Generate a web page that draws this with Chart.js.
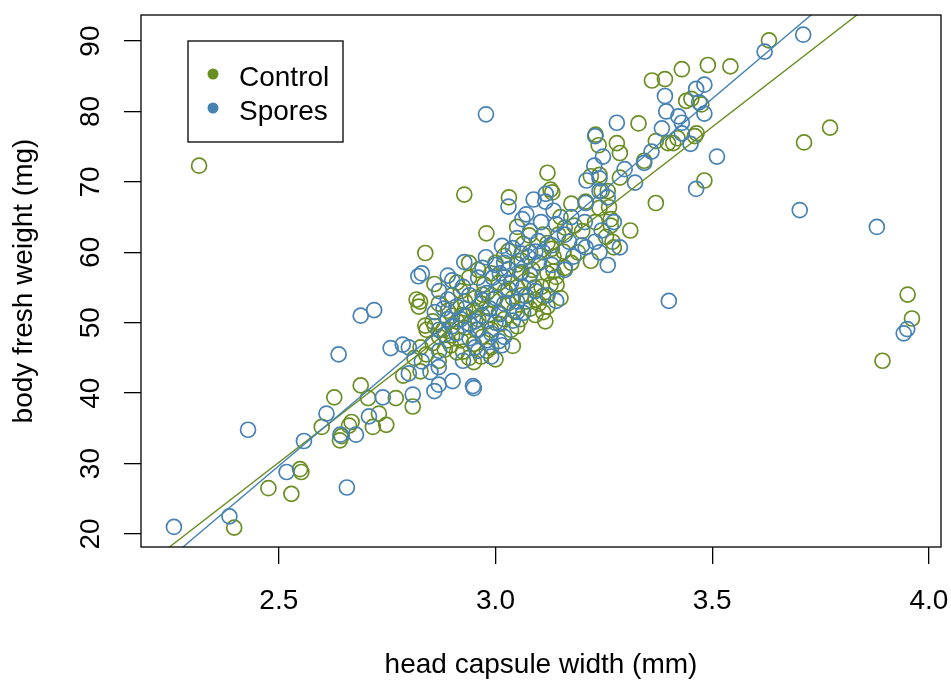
<!DOCTYPE html>
<html>
<head>
<meta charset="utf-8">
<script src="https://cdn.jsdelivr.net/npm/chart.js@4/dist/chart.umd.min.js"></script>
<style>
body{margin:0;background:#fff}
#wrap{width:951px;height:682px}
</style>
</head>
<body>
<div id="wrap"><canvas id="chart" width="951" height="682"></canvas></div>
<script>
// head capsule width (mm) / body fresh weight (mg)
const controlX=[2.316,2.397,2.476,2.529,2.549,2.552,2.599,2.628,2.641,2.645,2.662,2.668,2.689,2.706,2.717,2.731,2.748,2.770,2.809,2.787,
2.838,2.859,2.928,2.979,3.031,3.120,3.131,3.050,3.220,3.175,3.231,3.238,3.280,3.287,3.330,3.311,3.273,3.361,3.391,3.430,
3.490,3.542,3.631,3.370,3.482,3.464,3.440,3.452,3.398,3.712,3.772,3.951,3.961,3.893,3.259,3.266,
2.818,2.823,2.838,2.827,2.855,2.869,2.827,2.840,2.813,2.869,2.890,2.925,2.967,3.008,3.043,3.057,3.092,3.100,3.115,2.981,
3.036,2.855,2.841,2.911,2.955,2.897,2.925,2.939,2.967,2.990,3.000,3.040,2.911,2.883,2.950,2.939,2.974,3.008,3.057,3.078,
3.106,3.127,3.141,3.134,3.022,3.060,3.092,2.911,2.939,2.953,2.900,2.930,2.960,3.000,3.020,3.064,3.110,3.120,3.134,3.157,
3.175,3.182,3.208,3.127,3.150,3.160,3.078,3.030,3.050,3.255,3.266,3.262,3.245,3.287,3.240,3.220,3.343,3.370,3.410,3.420,
3.460,3.475,3.200,3.190,3.230,3.240,3.270,3.145,3.100,3.085,3.070,3.110,3.120,3.140,3.160,2.995,2.985,2.950,2.880,2.900,
2.920,2.930,2.970,3.010,3.030,3.050,2.826,
2.870,2.900,2.930,2.960,2.990,3.020,3.050,3.080,2.950,2.980,2.920,2.970,3.040,3.090,3.120,3.060,3.020,2.990,3.080,3.130,
2.860,2.890,3.150,3.110];
const controlY=[72.3,20.9,26.5,25.7,29.2,28.8,35.2,39.4,33.3,33.9,35.4,35.9,41.1,39.3,35.2,37.1,35.5,39.3,38.1,42.5,
59.9,55.5,68.2,62.7,67.8,71.3,68.5,63.6,58.8,66.9,76.7,75.2,75.5,74.1,78.3,63.1,60.7,84.4,84.6,86.0,
86.6,86.4,90.1,67.0,70.2,76.9,81.5,81.8,75.5,75.6,77.7,54.0,50.6,44.6,68.7,64.7,
53.3,52.3,49.6,46.5,47.1,44.6,43.1,45.5,45.0,52.7,51.7,51.1,52.7,51.4,51.7,50.5,51.1,52.7,50.2,50.2,
49.0,50.2,49.0,50.2,49.0,46.8,45.9,45.0,45.2,46.5,44.8,46.7,45.8,46.2,44.4,58.5,55.4,55.7,57.0,56.0,
55.1,55.4,55.4,57.3,54.5,53.9,53.3,55.7,56.4,53.5,53.9,53.0,57.5,58.5,59.5,61.2,62.5,61.3,59.4,60.1,
58.5,63.8,67.2,68.9,65.0,63.5,62.4,60.2,58.3,62.2,63.8,66.4,68.7,70.6,71.0,70.8,73.0,75.8,75.5,76.2,
76.5,81.0,63.0,60.0,64.3,66.3,61.5,62.5,58.5,57.5,53.0,53.8,52.3,56.5,57.8,53.3,51.2,51.8,49.0,48.2,
47.5,49.3,48.0,49.8,52.8,55.0,53.0,
48.0,51.0,52.0,50.5,49.0,50.5,49.5,52.0,47.0,46.0,54.5,54.0,53.5,55.0,57.0,58.8,56.5,57.0,60.0,60.5,
49.5,47.5,53.5,51.5];

const sporesX=[2.258,2.386,2.429,2.518,2.558,2.610,2.638,2.657,2.642,2.678,2.708,2.689,2.720,2.758,2.740,2.786,2.809,2.822,2.830,2.890,
2.928,2.869,2.859,2.901,2.948,2.950,2.978,3.030,3.071,3.088,3.140,3.210,3.228,3.230,3.248,3.240,3.280,3.322,3.298,3.343,
3.360,3.384,3.391,3.394,3.422,3.430,3.430,3.450,3.463,3.463,3.482,3.482,3.470,3.511,3.621,3.710,3.702,3.880,3.400,3.942,
3.950,2.800,2.830,2.869,2.883,2.870,2.925,2.953,2.980,3.008,3.015,2.940,2.960,2.990,3.020,2.890,2.910,2.940,2.953,2.987,
3.020,3.050,3.064,3.000,2.970,2.930,2.890,2.900,2.860,2.870,2.925,2.980,3.036,2.994,2.960,2.900,3.030,3.000,2.978,3.015,
3.040,3.092,3.099,3.110,3.075,3.064,3.092,3.120,3.050,3.080,3.130,3.160,3.175,3.206,3.208,3.134,3.115,3.116,3.140,3.105,
3.062,3.180,3.208,3.230,3.245,3.273,3.259,3.240,3.287,3.259,3.240,3.200,3.170,3.160,3.060,3.020,2.800,2.850,
2.880,2.910,2.940,2.970,3.010,3.040,3.070,2.960,2.990,2.920,3.030,3.060,3.100,3.010,2.970,3.050,3.080,3.130,2.870,3.000];
const sporesY=[21.0,22.5,34.8,28.8,33.2,37.1,45.5,26.6,34.1,34.1,36.7,51.0,51.8,46.4,39.4,46.9,39.8,56.6,57.0,56.7,
58.6,41.2,40.3,41.7,41.0,40.7,79.6,66.5,65.4,67.5,53.1,70.2,72.3,76.5,73.6,70.5,78.4,69.9,71.8,72.7,
74.3,77.6,82.2,80.0,79.3,78.4,76.9,75.4,69.0,83.2,83.8,79.7,81.3,73.6,88.5,90.9,66.0,63.6,53.1,48.5,
49.1,42.8,44.5,43.7,48.3,46.0,44.6,46.5,47.5,47.4,46.8,47.8,49.0,48.5,48.0,53.3,52.3,53.9,50.2,52.0,
52.7,51.5,51.4,50.0,51.0,51.0,50.5,49.5,51.5,54.5,55.1,54.2,55.7,56.4,56.4,56.0,57.6,58.2,59.3,60.9,
60.6,60.1,61.6,60.0,59.4,55.1,54.5,53.9,53.0,56.8,58.2,62.5,65.0,64.3,67.0,65.9,67.2,68.3,64.0,64.3,
64.7,59.4,60.7,61.5,63.1,64.3,67.8,68.7,60.7,58.2,60.0,61.0,61.5,57.5,57.2,58.5,46.5,43.0,
52.0,48.5,49.8,53.2,51.2,50.3,53.8,46.0,45.2,50.5,54.8,59.8,58.5,57.0,57.8,62.0,63.0,61.0,49.0,53.5];

// least squares lines (intercept, slope)
const fitControl=[-88.91,47.63];
const fitSpores=[-100.65,52.13];

const xTicks=[2.5,3.0,3.5,4.0];
const yTicks=[20,30,40,50,60,70,80,90];
const xRange=[2.182,4.028];
const yRange=[18.15,93.7];
const groups=["Control","Spores"];
const colors=["#6B8E23","#4682B4"];

const FONT='"Liberation Sans", Arial, Helvetica, sans-serif';

function pts(xs,ys){return xs.map((x,i)=>({x:x,y:ys[i]}))}
function fitLine(f){return xRange.map(x=>({x:x,y:f[0]+f[1]*x}))}

const boxLegend={
id:"boxLegend",
afterDraw(chart){
const c=chart.ctx,a=chart.chartArea;
c.save();
c.strokeStyle="#000";c.lineWidth=1.3;
c.strokeRect(a.left,a.top,a.right-a.left,a.bottom-a.top);
// legend
c.fillStyle="#fff";
c.fillRect(188,41,155,101);
c.strokeRect(188,41,155,101);
c.font="28px "+FONT;
c.textBaseline="alphabetic";
c.textAlign="left";
const ly=[74,108];
groups.forEach((g,i)=>{
c.fillStyle=colors[i];
c.beginPath();c.arc(213,ly[i],5.5,0,Math.PI*2);c.fill();
c.fillStyle="#000";
c.fillText(g,239,ly[i]+11.5);
});
c.restore();
}
};

new Chart(document.getElementById("chart"),{
type:"scatter",
data:{datasets:[
{label:"Spores fit",data:fitLine(fitSpores),showLine:true,borderColor:colors[1],borderWidth:1.4,pointRadius:0,order:0},
{label:"Control fit",data:fitLine(fitControl),showLine:true,borderColor:colors[0],borderWidth:1.4,pointRadius:0,order:0},
{label:"Spores",data:pts(sporesX,sporesY),borderColor:colors[1],backgroundColor:"rgba(0,0,0,0)",pointRadius:7.5,borderWidth:1.7,order:1},
{label:"Control",data:pts(controlX,controlY),borderColor:colors[0],backgroundColor:"rgba(0,0,0,0)",pointRadius:7.5,borderWidth:1.7,order:2}
]},
options:{
responsive:false,animation:false,
layout:{padding:{top:15,right:10,left:0,bottom:0}},
plugins:{legend:{display:false},tooltip:{enabled:false}},
scales:{
x:{type:"linear",min:xRange[0],max:xRange[1],
afterBuildTicks:s=>{s.ticks=xTicks.map(v=>({value:v}))},
afterFit:s=>{s.height=135;s.paddingLeft=0;s.paddingRight=0},
border:{display:false},
grid:{drawOnChartArea:false,drawTicks:true,tickLength:17,color:"#000",lineWidth:1.3},
ticks:{color:"#000",font:{family:FONT,size:28},padding:20,maxRotation:0,callback:v=>v.toFixed(1)},
title:{display:true,text:"head capsule width (mm)",color:"#000",font:{family:FONT,size:28},padding:{top:0,bottom:0}}
},
y:{type:"linear",min:yRange[0],max:yRange[1],
afterBuildTicks:s=>{s.ticks=yTicks.map(v=>({value:v}))},
afterFit:s=>{s.width=141;s.paddingTop=0;s.paddingBottom=0},
border:{display:false},
grid:{drawOnChartArea:false,drawTicks:true,tickLength:17,color:"#000",lineWidth:1.3},
ticks:{color:"#000",font:{family:FONT,size:28},padding:17,minRotation:90,maxRotation:90,crossAlign:"center",callback:v=>String(v)},
title:{display:true,text:"body fresh weight (mg)",color:"#000",font:{family:FONT,size:28},padding:{top:7,bottom:0}}
}
}
},
plugins:[boxLegend]
});
</script>
</body>
</html>
